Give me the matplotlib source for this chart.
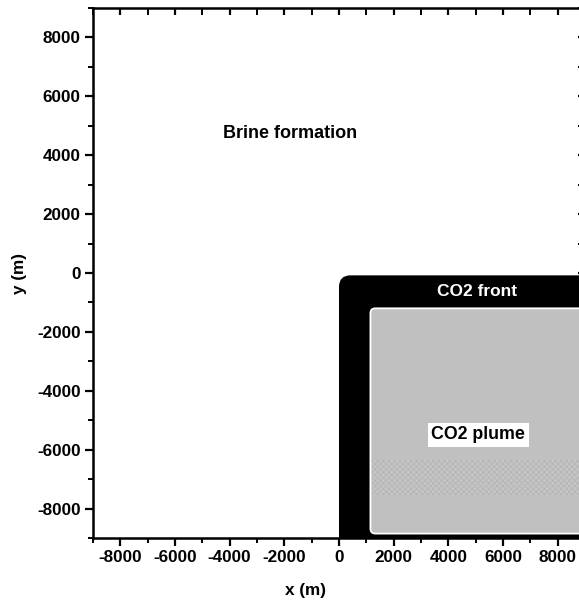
"""
Esquema del frente y la pluma de CO2 dentro de la formación salina.
"""

import matplotlib
matplotlib.use("Agg")
import matplotlib.pyplot as plt
from matplotlib.patches import FancyBboxPatch, Rectangle
from matplotlib.ticker import MultipleLocator

plt.rcParams["font.family"] = ["Liberation Sans", "DejaVu Sans"]
plt.rcParams["font.weight"] = "bold"
plt.rcParams["axes.unicode_minus"] = False
plt.rcParams["hatch.linewidth"] = 0.7

# limites del dominio (m)
x_lim = [-9000, 9000]
y_lim = [-9000, 9000]

# regiones (x0, x1), (y0, y1); el frente sigue por debajo del dominio
frente_x = [0, 9600]
frente_y = [-9600, -80]
pluma_x = [1150, 9300]
pluma_y = [-8850, -1200]
banda_y = [-7550, -6350]

# etiquetas de texto
textos = ["Brine formation", "CO2 front", "CO2 plume"]
textos_x = [-1800, 5050, 5100]
textos_y = [4750, -620, -5500]

ticks_mayores = list(range(-8000, 8001, 2000))

fig = plt.figure(figsize=(5.79, 6.07), dpi=100)
ax = fig.add_axes([93 / 579, 69 / 607, 492 / 579, 530 / 607])

ax.set_xlim(x_lim)
ax.set_ylim(y_lim)

# frente de CO2 (negro, esquina redondeada)
frente = FancyBboxPatch(
    (frente_x[0], frente_y[0]),
    frente_x[1] - frente_x[0], frente_y[1] - frente_y[0],
    boxstyle="round,pad=0,rounding_size=420",
    mutation_aspect=0.93,
    facecolor="black", edgecolor="none", zorder=1,
)
ax.add_patch(frente)

# pluma de CO2 (gris)
pluma = FancyBboxPatch(
    (pluma_x[0], pluma_y[0]),
    pluma_x[1] - pluma_x[0], pluma_y[1] - pluma_y[0],
    boxstyle="round,pad=0,rounding_size=180",
    mutation_aspect=0.93,
    facecolor="#c0c0c0", edgecolor="white", linewidth=1.3, zorder=2,
)
ax.add_patch(pluma)

# banda con textura
banda = Rectangle(
    (pluma_x[0] + 60, banda_y[0]),
    pluma_x[1] - pluma_x[0], banda_y[1] - banda_y[0],
    facecolor="#c6c6c6", edgecolor="#b6b6b6", linewidth=0,
    hatch="xxxxxx", zorder=3,
)
ax.add_patch(banda)

ax.text(textos_x[0], textos_y[0], textos[0], ha="center", va="center",
        fontsize=13, fontweight="bold", color="black", zorder=5)
ax.text(textos_x[1], textos_y[1], textos[1], ha="center", va="center",
        fontsize=12.5, fontweight="bold", color="white", zorder=5)
ax.text(textos_x[2], textos_y[2], textos[2], ha="center", va="center",
        fontsize=12.8, fontweight="bold", color="black", zorder=5,
        bbox=dict(facecolor="white", edgecolor="none", pad=2.5))

# ejes
for lado in ["left", "bottom", "top", "right"]:
    ax.spines[lado].set_linewidth(1.8)
    ax.spines[lado].set_zorder(6)

ax.set_xticks(ticks_mayores)
ax.set_yticks(ticks_mayores)
ax.xaxis.set_minor_locator(MultipleLocator(1000))
ax.yaxis.set_minor_locator(MultipleLocator(1000))

ax.tick_params(axis="both", which="major", direction="out", length=6,
               width=1.6, labelsize=12.3, pad=3)
ax.tick_params(axis="both", which="minor", direction="out", length=3.5,
               width=1.4)
ax.tick_params(axis="x", which="both", top=True, labeltop=False)
ax.tick_params(axis="y", which="both", right=True, labelright=False)

# ticks de arriba y derecha hacia dentro
for tick in ax.xaxis.get_major_ticks() + ax.xaxis.get_minor_ticks():
    tick.tick2line.set_marker(3)
    tick.tick2line.set_markersize(5)
for tick in ax.yaxis.get_major_ticks() + ax.yaxis.get_minor_ticks():
    tick.tick2line.set_marker(0)
    tick.tick2line.set_markersize(5)

for lab in ax.get_xticklabels() + ax.get_yticklabels():
    lab.set_fontweight("bold")

ax.set_xlabel("x (m)", fontsize=12.3, fontweight="bold")
ax.set_ylabel("y (m)", fontsize=12.3, fontweight="bold")
ax.xaxis.set_label_coords(0.432, -0.085)
ax.yaxis.set_label_coords(-0.135, 0.5)

fig.savefig("out.png", dpi=100)
